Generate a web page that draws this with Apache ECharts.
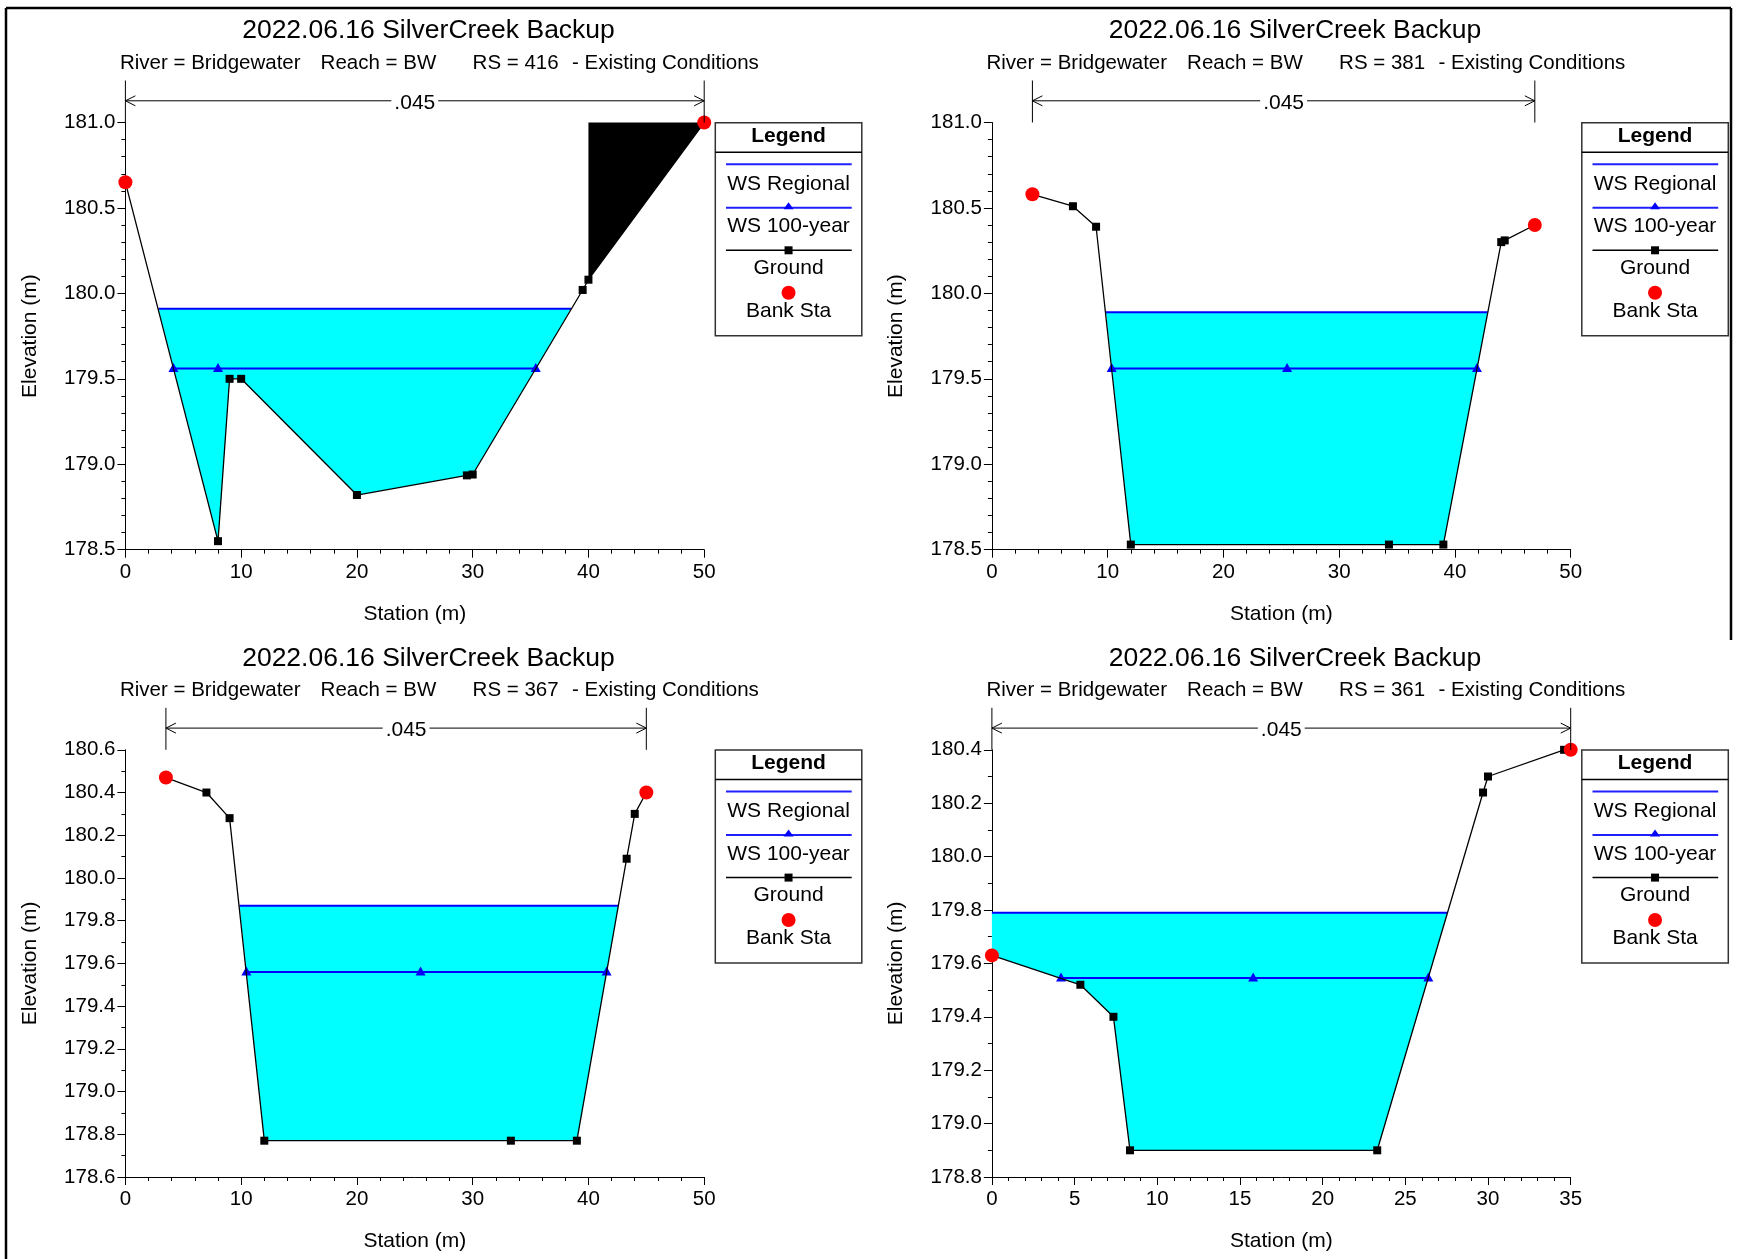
<!DOCTYPE html>
<html><head><meta charset="utf-8">
<script src="https://cdn.jsdelivr.net/npm/echarts@6/dist/echarts.min.js"></script>
<style>html,body{margin:0;padding:0;background:#fff}#c{width:1739px;height:1259px}</style>
</head><body><div id="c"></div><script>
const FONT = '"Liberation Sans", Arial, sans-serif';

// ---- text ----
const chartTitle = '2022.06.16 SilverCreek Backup';
const riverLabel = 'River = Bridgewater';
const reachLabel = 'Reach = BW';
const rsLabels = ['RS = 416', 'RS = 381', 'RS = 367', 'RS = 361'];
const planLabel = '- Existing Conditions';
const xAxisTitle = 'Station (m)';
const yAxisTitle = 'Elevation (m)';
const manningN = ['.045', '.045', '.045', '.045'];
const legendItems = ['WS Regional', 'WS 100-year', 'Ground', 'Bank Sta'];

// ---- axis ranges [min, max, interval, minorSplit] ----
const xRanges = [[0, 50, 10, 5], [0, 50, 10, 5], [0, 50, 10, 5], [0, 35, 5, 5]];
const yRanges = [[178.5, 181.0, 0.5, 5], [178.5, 181.0, 0.5, 5], [178.6, 180.6, 0.2, 2], [178.8, 180.4, 0.2, 2]];

// ---- ground (station, elevation) ----
const ground416 = [[0, 180.65], [8.0, 178.55], [9.0, 179.50], [10.0, 179.50], [20.0, 178.82], [29.5, 178.935], [30.0, 178.94], [39.5, 180.02], [40.0, 180.08], [50.0, 181.0]];
const ground381 = [[3.5, 180.58], [7.0, 180.51], [9.0, 180.39], [12.0, 178.53], [34.3, 178.53], [39.0, 178.53], [44.0, 180.30], [44.3, 180.31], [46.9, 180.40]];
const ground367 = [[3.5, 180.47], [7.0, 180.40], [9.0, 180.28], [12.0, 178.77], [33.3, 178.77], [39.0, 178.77], [43.3, 180.09], [44.0, 180.30], [45.0, 180.40]];
const ground361 = [[0, 179.63], [5.35, 179.52], [7.35, 179.40], [8.35, 178.90], [23.3, 178.90], [29.7, 180.24], [30.0, 180.30], [34.6, 180.40], [35.0, 180.40]];

// ---- bank stations ----
const banks416 = [[0, 180.65], [50, 181.0]];
const banks381 = [[3.5, 180.58], [46.9, 180.40]];
const banks367 = [[3.5, 180.47], [45.0, 180.40]];
const banks361 = [[0, 179.63], [35.0, 180.40]];

// ---- WS Regional (water surface edges) ----
const wsRegional416 = [[2.85, 179.91], [38.5, 179.91]];
const wsRegional381 = [[9.85, 179.89], [42.83, 179.89]];
const wsRegional367 = [[9.85, 179.87], [42.58, 179.87]];
const wsRegional361 = [[0, 179.79], [27.53, 179.79]];

// ---- WS 100-year (marker points) ----
const ws100_416 = [[4.15, 179.56], [8.0, 179.56], [35.45, 179.56]];
const ws100_381 = [[10.35, 179.56], [25.5, 179.56], [41.9, 179.56]];
const ws100_367 = [[10.45, 179.56], [25.5, 179.56], [41.57, 179.56]];
const ws100_361 = [[4.18, 179.545], [15.8, 179.545], [26.39, 179.545]];

// ---- blocked obstruction (RS 416): [fromSta, toSta, topElev] ----
const obstruction416 = [40, 50, 181.0];

const grounds = [ground416, ground381, ground367, ground361];
const banks = [banks416, banks381, banks367, banks361];
const wsRegs = [wsRegional416, wsRegional381, wsRegional367, wsRegional361];
const ws100s = [ws100_416, ws100_381, ws100_367, ws100_361];
const obstructions = [obstruction416, null, null, null];

// ---- layout ----
const DX = 866.5, DY = 627.3;
const offs = [[0, 0], [DX, 0], [0, DY], [DX, DY]];
const GL = 125.4, GT = 122.5, GW = 578.8, GH = 427.2;

const grid = [], xAxis = [], yAxis = [], series = [], graphic = [];

function txt(x, y, text, size, opts) {
  opts = opts || {};
  return {
    type: 'text', x: x, y: y, rotation: opts.rot || 0, z: 100,
    style: {
      text: text, fill: '#000', fontSize: size, fontFamily: FONT,
      fontWeight: opts.bold ? 'bold' : 'normal',
      align: opts.align || 'center', verticalAlign: 'middle',
      textAlign: opts.align || 'center', textVerticalAlign: 'middle'
    }
  };
}
function ln(x1, y1, x2, y2, color, w) {
  return { type: 'line', z: 100, shape: { x1: x1, y1: y1, x2: x2, y2: y2 }, style: { stroke: color, lineWidth: w } };
}

for (let i = 0; i < 4; i++) {
  const [dx, dy] = offs[i];
  const xr = xRanges[i], yr = yRanges[i];
  grid.push({ left: GL + dx, top: GT + dy, width: GW, height: GH, containLabel: false });
  xAxis.push({
    gridIndex: i, type: 'value', min: xr[0], max: xr[1], interval: xr[2],
    axisLine: { show: true, onZero: false, lineStyle: { color: '#000', width: 1 } },
    axisTick: { show: true, length: 8, lineStyle: { color: '#000', width: 1 } },
    minorTick: { show: true, splitNumber: xr[3], length: 4, lineStyle: { color: '#000', width: 1 } },
    splitLine: { show: false },
    axisLabel: { color: '#000', fontSize: 20.5, fontFamily: FONT, margin: 12 }
  });
  yAxis.push({
    gridIndex: i, type: 'value', min: yr[0], max: yr[1], interval: yr[2],
    axisLine: { show: true, onZero: false, lineStyle: { color: '#000', width: 1 } },
    axisTick: { show: true, length: 8, lineStyle: { color: '#000', width: 1 } },
    minorTick: { show: true, splitNumber: yr[3], length: 4, lineStyle: { color: '#000', width: 1 } },
    splitLine: { show: false },
    axisLabel: { color: '#000', fontSize: 20.5, fontFamily: FONT, margin: 10, formatter: v => v.toFixed(1) }
  });

  const ground = grounds[i], wsReg = wsRegs[i], ws100 = ws100s[i], obs = obstructions[i], bk = banks[i];
  const yMax = yr[1];

  // water fill polygon (WS Regional down to ground)
  series.push({
    type: 'custom', xAxisIndex: i, yAxisIndex: i, z: 1, clip: false, silent: true,
    data: [[wsReg[0][0], wsReg[0][1]]],
    renderItem: function (params, api) {
      const l = wsReg[0], r = wsReg[wsReg.length - 1];
      const pts = [api.coord(l)];
      ground.forEach(g => { if (g[0] >= l[0] && g[0] <= r[0]) pts.push(api.coord(g)); });
      pts.push(api.coord(r));
      return { type: 'polygon', shape: { points: pts }, style: { fill: '#00ffff' } };
    }
  });
  // blocked obstruction
  if (obs) {
    series.push({
      type: 'custom', xAxisIndex: i, yAxisIndex: i, z: 2, clip: false, silent: true,
      data: [[obs[0], obs[2]]],
      renderItem: function (params, api) {
        const pts = [api.coord([obs[0], obs[2]]), api.coord([obs[1], obs[2]])];
        ground.slice().reverse().forEach(g => { if (g[0] >= obs[0] && g[0] <= obs[1]) pts.push(api.coord(g)); });
        return { type: 'polygon', shape: { points: pts }, style: { fill: '#000' } };
      }
    });
  }
  // WS Regional
  series.push({
    type: 'line', name: legendItems[0], xAxisIndex: i, yAxisIndex: i, z: 3, clip: false,
    data: wsReg, showSymbol: false, symbol: 'none',
    lineStyle: { color: '#0000ff', width: 2 }, animation: false
  });
  // WS 100-year
  series.push({
    type: 'line', name: legendItems[1], xAxisIndex: i, yAxisIndex: i, z: 4, clip: false,
    data: ws100, symbol: 'triangle', symbolSize: [10, 9], symbolOffset: [0, -1], showAllSymbol: true,
    itemStyle: { color: '#0000ff', opacity: 1 }, lineStyle: { color: '#0000ff', width: 2 }, animation: false
  });
  // Ground
  series.push({
    type: 'line', name: legendItems[2], xAxisIndex: i, yAxisIndex: i, z: 5, clip: false,
    data: ground, symbol: 'rect', symbolSize: 8, showAllSymbol: true,
    itemStyle: { color: '#000', opacity: 1 }, lineStyle: { color: '#000', width: 1.3 }, animation: false
  });
  // Bank Sta
  series.push({
    type: 'scatter', name: legendItems[3], xAxisIndex: i, yAxisIndex: i, z: 6, clip: false,
    data: bk, symbol: 'circle', symbolSize: 14, itemStyle: { color: '#ff0000', opacity: 1 }, animation: false
  });
  // Manning's n bracket between bank stations
  series.push({
    type: 'custom', xAxisIndex: i, yAxisIndex: i, z: 7, clip: false, silent: true,
    data: [[bk[0][0], bk[1][0]]],
    renderItem: function (params, api) {
      const pl = api.coord([api.value(0), yMax]);
      const pr = api.coord([api.value(1), yMax]);
      const top = pl[1];
      const ya = top - 21.7;
      const st = { stroke: '#000', lineWidth: 1, fill: null };
      return {
        type: 'group', children: [
          { type: 'line', shape: { x1: pl[0], y1: top - 42, x2: pl[0], y2: top }, style: st },
          { type: 'line', shape: { x1: pr[0], y1: top - 42, x2: pr[0], y2: top }, style: st },
          { type: 'line', shape: { x1: pl[0], y1: ya, x2: pr[0], y2: ya }, style: st },
          { type: 'polyline', shape: { points: [[pl[0] + 10, ya - 5], [pl[0], ya], [pl[0] + 10, ya + 5]] }, style: st },
          { type: 'polyline', shape: { points: [[pr[0] - 10, ya - 5], [pr[0], ya], [pr[0] - 10, ya + 5]] }, style: st },
          { type: 'text', x: (pl[0] + pr[0]) / 2, y: ya + 2,
            style: { text: manningN[i], fill: '#000', fontSize: 21, fontFamily: FONT,
              align: 'center', verticalAlign: 'middle', textAlign: 'center', textVerticalAlign: 'middle',
              backgroundColor: '#fff', padding: [0, 3] } }
        ]
      };
    }
  });

  // titles
  graphic.push(txt(428.5 + dx, 31 + dy, chartTitle, 26.5));
  graphic.push(txt(120 + dx, 63 + dy, riverLabel, 20.5, { align: 'left' }));
  graphic.push(txt(320.6 + dx, 63 + dy, reachLabel, 20.5, { align: 'left' }));
  graphic.push(txt(472.6 + dx, 63 + dy, rsLabels[i], 20.5, { align: 'left' }));
  graphic.push(txt(572 + dx, 63 + dy, planLabel, 20.5, { align: 'left' }));
  graphic.push(txt(GL + GW / 2 + dx, 614 + dy, xAxisTitle, 21));
  graphic.push(txt(30 + dx, GT + GH / 2 + dy, yAxisTitle, 21, { rot: Math.PI / 2 }));

  // legend box
  const lx = 715.3 + dx, ly = 122.7 + dy, lw = 146.5, lh = 213, cx = lx + lw / 2;
  graphic.push({ type: 'rect', z: 99, shape: { x: lx, y: ly, width: lw, height: lh }, style: { fill: '#fff', stroke: '#333', lineWidth: 1.5 } });
  graphic.push(ln(lx, ly + 29.6, lx + lw, ly + 29.6, '#000', 1.5));
  graphic.push(txt(cx, ly + 13.3, 'Legend', 21, { bold: true }));
  graphic.push(ln(lx + 10.7, ly + 41.6, lx + 136.4, ly + 41.6, '#2020ff', 2));
  graphic.push(txt(cx, ly + 61.3, legendItems[0], 21));
  graphic.push(ln(lx + 10.7, ly + 85, lx + 136.4, ly + 85, '#2020ff', 2));
  graphic.push({ type: 'polygon', z: 101, shape: { points: [[cx, ly + 79.5], [cx - 5, ly + 86.5], [cx + 5, ly + 86.5]] }, style: { fill: '#0000ff' } });
  graphic.push(txt(cx, ly + 104, legendItems[1], 21));
  graphic.push(ln(lx + 10.7, ly + 127.6, lx + 136.4, ly + 127.6, '#000', 1.5));
  graphic.push({ type: 'rect', z: 101, shape: { x: cx - 4, y: ly + 123.6, width: 8, height: 8 }, style: { fill: '#000' } });
  graphic.push(txt(cx, ly + 145.6, legendItems[2], 21));
  graphic.push({ type: 'circle', z: 101, shape: { cx: cx, cy: ly + 170, r: 7 }, style: { fill: '#ff0000' } });
  graphic.push(txt(cx, ly + 188.6, legendItems[3], 21));
}

// outer frame
graphic.push(ln(6, 8, 1731, 8, '#000', 2.5));
graphic.push(ln(6, 8, 6, 1259, '#000', 2.5));
graphic.push(ln(1731, 8, 1731, 640, '#000', 2.5));

const chart = echarts.init(document.getElementById('c'), null, { renderer: 'canvas' });
chart.setOption({
  animation: false,
  backgroundColor: '#fff',
  grid: grid, xAxis: xAxis, yAxis: yAxis, series: series, graphic: graphic
});
</script></body></html>
